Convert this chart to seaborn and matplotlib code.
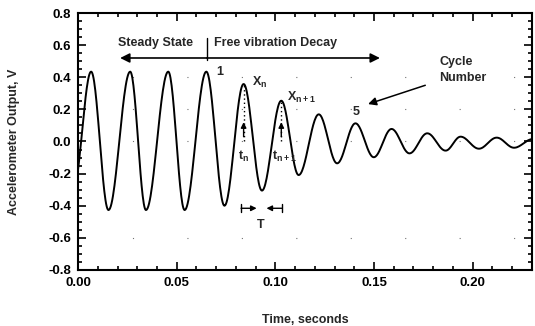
import numpy as np
import pandas as pd
import matplotlib
matplotlib.use("Agg")
import matplotlib.pyplot as plt
import seaborn as sns

# extrema of the accelerometer trace (time s, volts)
peak_t = [0.0066, 0.0264, 0.0457, 0.0650, 0.0839, 0.1030, 0.1220, 0.1406,
          0.1589, 0.1770, 0.1939, 0.2122]
peak_v = [0.435, 0.435, 0.435, 0.435, 0.358, 0.254, 0.169, 0.113,
          0.078, 0.051, 0.030, 0.024]
trough_t = [0.0154, 0.0344, 0.0540, 0.0742, 0.0932, 0.1118, 0.1313, 0.1499,
            0.1680, 0.1863, 0.2032, 0.2210]
trough_v = [-0.427, -0.427, -0.427, -0.400, -0.306, -0.209, -0.136, -0.098,
            -0.074, -0.057, -0.045, -0.039]
# trace ends (start comes from below the left edge, end just rising)
start_t, start_v = -0.0025, -0.30
end_t, end_v = 0.2305, 0.015

x_ticks = [0.00, 0.05, 0.10, 0.15, 0.20]
y_ticks = [-0.8, -0.6, -0.4, -0.2, 0.0, 0.2, 0.4, 0.6, 0.8]


def trace(pt, pv, tt, tv):
    # join the read extrema with half-cosine swings
    ext_t = [start_t]
    ext_v = [start_v]
    for a, b, c, d in zip(pt, pv, tt, tv):
        ext_t += [a, c]
        ext_v += [b, d]
    ext_t.append(end_t)
    ext_v.append(end_v)
    ts, vs = [], []
    for i in range(len(ext_t) - 1):
        s = np.linspace(0, 1, 30)
        ts.append(ext_t[i] + (ext_t[i + 1] - ext_t[i]) * s)
        vs.append(ext_v[i] + (ext_v[i + 1] - ext_v[i]) * (1 - np.cos(np.pi * s)) / 2)
    return pd.DataFrame({"t": np.concatenate(ts), "v": np.concatenate(vs)})


df = trace(peak_t, peak_v, trough_t, trough_v)

sns.set_style("ticks")
plt.rcParams["font.family"] = ["Liberation Sans", "DejaVu Sans"]
plt.rcParams["font.weight"] = "bold"

fig = plt.figure(figsize=(5.35, 3.26), dpi=100)
ax = fig.add_axes([0.146, 0.172, 0.848, 0.788])

sns.lineplot(data=df, x="t", y="v", ax=ax, color="black", linewidth=1.4,
             sort=False, estimator=None)

# faint sparse dotted grid, as in the scan
for yv in [-0.6, 0.0, 0.2, 0.4]:
    ax.axhline(yv, color="0.45", linewidth=0.8, dashes=(1, 48), zorder=0)

ax.set_xlim(0, 0.23)
ax.set_ylim(-0.8, 0.8)
ax.set_xticks(x_ticks)
ax.set_xticklabels([f"{v:.2f}" for v in x_ticks])
ax.set_yticks(y_ticks)
ax.set_yticklabels([f"{v:.1f}" for v in y_ticks])
ax.set_xticks(np.arange(0, 0.231, 0.01), minor=True)
ax.set_yticks(np.arange(-0.8, 0.81, 0.05), minor=True)
ax.tick_params(which="both", direction="in", top=True, right=True,
               colors="black", labelsize=9.5, width=1.2)
ax.tick_params(which="major", length=6, pad=5)
ax.tick_params(which="minor", length=3)
for sp in ax.spines.values():
    sp.set_linewidth(1.5)
    sp.set_color("black")

ax.set_xlabel("Time, seconds", fontsize=9, fontweight="bold", labelpad=18)
ax.set_ylabel("Accelerometer Output, V", fontsize=9, fontweight="bold", labelpad=20)

fs = 9
# steady state / free vibration arrows
ax.annotate("", xy=(0.0213, 0.52), xytext=(0.0653, 0.52),
            arrowprops=dict(arrowstyle="-|>", color="black", lw=1.2,
                            mutation_scale=14, shrinkA=0, shrinkB=0))
ax.annotate("", xy=(0.153, 0.52), xytext=(0.0653, 0.52),
            arrowprops=dict(arrowstyle="-|>", color="black", lw=1.2,
                            mutation_scale=14, shrinkA=0, shrinkB=0))
ax.plot([0.0653, 0.0653], [0.507, 0.645], color="black", lw=1.0)
ax.text(0.0203, 0.613, "Steady State", fontsize=fs, va="center", ha="left")
ax.text(0.0690, 0.613, "Free vibration Decay", fontsize=fs, va="center", ha="left")

ax.text(0.0720, 0.43, "1", fontsize=fs, ha="center", va="center")
ax.text(0.1410, 0.185, "5", fontsize=fs, ha="center", va="center")
ax.text(0.1830, 0.445, "Cycle\nNumber", fontsize=fs, ha="left", va="center",
        linespacing=1.35)
ax.annotate("", xy=(0.147, 0.233), xytext=(0.176, 0.35),
            arrowprops=dict(arrowstyle="-|>", color="black", lw=1.1,
                            mutation_scale=12, shrinkA=0, shrinkB=0))

# X_n and X_n+1 markers
ax.text(0.0880, 0.365, r"X$_\mathregular{n}$", fontsize=fs, ha="left", va="center")
ax.text(0.1060, 0.277, r"X$_\mathregular{n+1}$", fontsize=fs, ha="left", va="center")
for tp, vp in [(0.0839, 0.35), (0.1030, 0.245)]:
    ax.plot([tp, tp], [0.0, vp], color="black", lw=1.0, linestyle=(0, (1, 2)))
    ax.annotate("", xy=(tp, 0.12), xytext=(tp, 0.03),
                arrowprops=dict(arrowstyle="-|>", color="black", lw=1.0,
                                mutation_scale=8, shrinkA=0, shrinkB=0))
ax.text(0.0839, -0.095, r"t$_\mathregular{n}$", fontsize=fs, ha="center", va="center")
ax.text(0.0985, -0.095, r"t$_\mathregular{n+1}$", fontsize=fs, ha="left", va="center")

# period T
ax.plot([0.0826, 0.0826], [-0.39, -0.44], color="black", lw=1.0)
ax.plot([0.1034, 0.1034], [-0.39, -0.44], color="black", lw=1.0)
ax.annotate("", xy=(0.0905, -0.416), xytext=(0.0826, -0.416),
            arrowprops=dict(arrowstyle="-|>", color="black", lw=1.0,
                            mutation_scale=8, shrinkA=0, shrinkB=0))
ax.annotate("", xy=(0.0955, -0.416), xytext=(0.1034, -0.416),
            arrowprops=dict(arrowstyle="-|>", color="black", lw=1.0,
                            mutation_scale=8, shrinkA=0, shrinkB=0))
ax.text(0.0924, -0.52, "T", fontsize=fs, ha="center", va="center")

fig.savefig("out.png", dpi=100)
